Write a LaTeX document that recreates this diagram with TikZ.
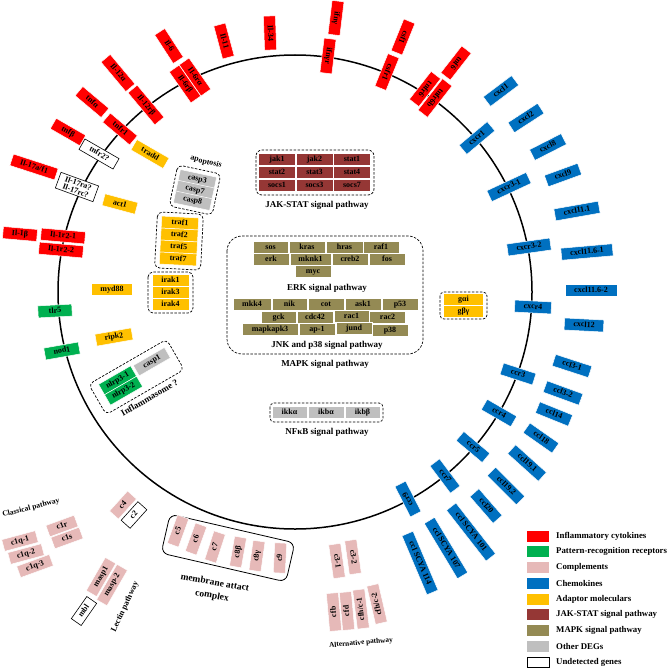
\documentclass[tikz,border=0pt]{standalone}
\usepackage{fontspec}
\setmainfont{Liberation Serif}
\definecolor{cInfl}{HTML}{FF0000}
\definecolor{cPrr}{HTML}{00B050}
\definecolor{cComp}{HTML}{E6B9B8}
\definecolor{cChemo}{HTML}{0070C0}
\definecolor{cAdapt}{HTML}{FFC000}
\definecolor{cJak}{HTML}{953735}
\definecolor{cMapk}{HTML}{948A54}
\definecolor{cOther}{HTML}{BFBFBF}
\newcommand{\genefont}{\fontsize{8}{9}\selectfont\bfseries}
\newcommand{\pathfont}{\fontsize{9}{10}\selectfont\bfseries}
\newcommand{\smallpath}{\fontsize{7.6}{9}\selectfont\bfseries}
\tikzset{
  gene/.style={draw=white, line width=.5pt, minimum width=34pt, minimum height=12pt,
    inner xsep=9pt, inner ysep=0pt, text height=5.6pt, text depth=1.6pt, font=\genefont},
  infl/.style={gene, fill=cInfl},
  prr/.style={gene, fill=cPrr},
  comp/.style={gene, fill=cComp, minimum width=30pt, inner xsep=8pt},
  chemo/.style={gene, fill=cChemo},
  adapt/.style={gene, fill=cAdapt},
  undet/.style={gene, draw=black, line width=.6pt, fill=white},
  cell/.style={gene, minimum width=37pt, inner xsep=1pt},
  jak/.style={cell, fill=cJak},
  mapk/.style={cell, fill=cMapk, minimum width=36pt},
  other/.style={cell, fill=cOther},
  grp/.style={draw, dash pattern=on 2.5pt off 1.5pt, line width=.7pt, rounded corners=5pt},
  lab/.style={font=\pathfont, inner sep=1pt},
  key/.style={minimum width=22pt, minimum height=11pt, inner sep=0pt},
}
\begin{document}
\begin{tikzpicture}[x=1pt,y=-1pt]
\useasboundingbox (0,0) rectangle (669,669);
\draw[line width=1.5pt] (295,292) circle[radius=237pt];

% inflammatory cytokines
\node[infl,rotate=-57] (il6) at (169,46) {Il-6};
\node[infl,rotate=-75] (il11) at (224,41) {Il-11};
\node[infl,rotate=-88] (il34) at (270,33) {Il-34};
\node[infl,rotate=-97] (ifng) at (336,18) {ifnγ};
\node[infl,rotate=-97] (ifngr) at (328,56) {ifnγr};
\node[infl,rotate=-112] (csf1) at (403,37) {csf1};
\node[infl,rotate=-112] (csfr1) at (387,72) {csfr1};
\node[infl,rotate=-128] (tnf6) at (456,63) {tnf6};
\node[infl,rotate=-128] (tnfr6) at (425,89) {tnfr6};
\node[infl,rotate=-128] (tnfr6b) at (435,98) {tnfr6b};
\node[infl,rotate=-55] (il6ra) at (195,77) {Il-6rα};
\node[infl,rotate=-55] (il6rb) at (185,84) {Il-6rβ};
\node[infl,rotate=-50] (il12a) at (118,73) {Il-12α};
\node[infl,rotate=-50] (il12rb) at (146,105) {Il-12rβ};
\node[infl,rotate=-40] (tnfa) at (92,102) {tnfα};
\node[infl,rotate=-40] (tnfr1) at (120,129) {tnfr1};
\node[infl,rotate=-30] (tnfb) at (68,132) {tnfβ};
\node[infl,rotate=-18,minimum width=46pt] (il17af) at (34,167) {Il-17a/f1};
\node[infl,rotate=-5] (il1b) at (20,234) {Il-1β};
\node[infl,rotate=-5] (il1r21) at (63,236) {Il-1r2-1};
\node[infl,rotate=-5] (il1r22) at (61,250) {Il-1r2-2};

% undetected
\node[undet,rotate=-30] (tnfr2) at (99,154) {tnfr2?};
\node[undet,rotate=-20,align=center,text height=,text depth=,inner ysep=1.5pt,
  minimum width=40pt,inner xsep=3pt] (il17r) at (77,187) {Il-17ra?\\[-1pt]Il-17rc?};

% adaptors and receptors
\node[adapt,rotate=-30] (tradd) at (150,154) {tradd};
\node[adapt,rotate=-15] (act1) at (120,204) {act1};
\node[adapt] (myd88) at (112,289) {myd88};
\node[adapt,rotate=10] (ripk2) at (114,337) {ripk2};
\node[prr,rotate=3] (tlr5) at (55,311) {tlr5};
\node[prr,rotate=10] (nod1) at (62,351) {nod1};

\begin{scope}[shift={(179,241)},rotate=-3,transform shape]
\draw[grp] (-23,-28) rectangle (23,28);
\node[cell,fill=cAdapt] (traf1) at (0,-18) {traf1};
\node[cell,fill=cAdapt] (traf2) at (0,-6) {traf2};
\node[cell,fill=cAdapt] (traf5) at (0,6) {traf5};
\node[cell,fill=cAdapt] (traf7) at (0,18) {traf7};
\end{scope}

\draw[grp] (148,272) rectangle (193,313);
\node[cell,fill=cAdapt] (irak1) at (170.5,280.5) {irak1};
\node[cell,fill=cAdapt] (irak3) at (170.5,292.5) {irak3};
\node[cell,fill=cAdapt] (irak4) at (170.5,304.5) {irak4};

\begin{scope}[shift={(195,190)},rotate=-12,transform shape]
\draw[grp] (-22,-21) rectangle (22,21);
\node[other] (casp3) at (0,-11) {casp3};
\node[other] (casp7) at (0,0) {casp7};
\node[other] (casp8) at (0,11) {casp8};
\end{scope}
\node[lab,font=\fontsize{8}{9}\selectfont\bfseries,rotate=-14] (apop) at (206,162) {apoptosis};

\begin{scope}[shift={(137,376)},rotate=30,transform shape]
\draw[grp] (-46,-17) rectangle (44,18);
\node[cell,fill=cPrr] (nlrp31) at (-19,-6) {nlrp3-1};
\node[cell,fill=cPrr] (nlrp32) at (-19,6) {nlrp3-2};
\node[other,minimum width=36pt] (casp1) at (20,-5) {casp1};
\node[lab] (inflam) at (0,25) {Inflammasome ?};
\end{scope}

\draw[grp,rounded corners=4pt] (440,292) rectangle (487,319);
\node[cell,fill=cAdapt,minimum width=40pt] (gai) at (463.5,299.5) {gαi};
\node[cell,fill=cAdapt,minimum width=40pt] (gbg) at (463.5,311.5) {gβγ};

% JAK-STAT
\draw[grp,rounded corners=6pt] (256,150) rectangle (374,195);
\node[jak] (jak1) at (277,159.5) {jak1};
\node[jak] (jak2) at (314.5,159.5) {jak2};
\node[jak] (stat1) at (352,159.5) {stat1};
\node[jak] (stat2) at (277,172.5) {stat2};
\node[jak] (stat3) at (314.5,172.5) {stat3};
\node[jak] (stat4) at (352,172.5) {stat4};
\node[jak] (socs1) at (277,185.5) {socs1};
\node[jak] (socs3) at (314.5,185.5) {socs3};
\node[jak] (socs7) at (352,185.5) {socs7};
\node[lab] (jaklab) at (317,205) {JAK-STAT signal pathway};

% MAPK
\draw[grp,rounded corners=15pt] (227,236) rectangle (423,354);
\node[mapk,minimum width=35pt] (sos) at (270.5,247) {sos};
\node[mapk] (kras) at (307,247) {kras};
\node[mapk,minimum width=37pt] (hras) at (344.5,247) {hras};
\node[mapk] (raf1) at (381,247) {raf1};
\node[mapk] (erk) at (271,259) {erk};
\node[mapk,minimum width=41pt] (mknk1) at (310.5,259) {mknk1};
\node[mapk] (creb2) at (350,259) {creb2};
\node[mapk] (fos) at (387,259) {fos};
\node[mapk] (myc) at (313,271.5) {myc};
\node[lab] (erklab) at (327,288) {ERK signal pathway};
\node[mapk,minimum width=38pt] (mkk4) at (252,304) {mkk4};
\node[mapk,minimum width=35pt] (nik) at (289.5,304) {nik};
\node[mapk] (cot) at (326,304) {cot};
\node[mapk] (ask1) at (363,304) {ask1};
\node[mapk] (p53) at (400,304) {p53};
\node[mapk,minimum width=35pt] (gck) at (278.5,317) {gck};
\node[mapk] (cdc42) at (315,317) {cdc42};
\node[mapk,minimum width=35pt] (rac1) at (351.5,316) {rac1};
\node[mapk] (rac2) at (387.5,317.5) {rac2};
\node[mapk,minimum width=56pt] (mapkapk3) at (270,329) {mapkapk3};
\node[mapk] (ap1) at (317,329) {ap-1};
\node[mapk] (jund) at (354,328) {jund};
\node[mapk] (p38) at (390,330) {p38};
\node[lab] (jnklab) at (327,345) {JNK and p38 signal pathway};
\node[lab] (mapklab) at (325,364) {MAPK signal pathway};

% NFkB
\draw[grp,rounded corners=4pt] (270,403) rectangle (383,422);
\node[other,minimum width=35pt] (ikka) at (289.5,412.5) {ikkα};
\node[other,minimum width=36pt] (ikba) at (326,412.5) {ikbα};
\node[other,minimum width=35pt] (ikbb) at (362.5,412.5) {ikbβ};
\node[lab] (nfkblab) at (327,432) {NFκB signal pathway};

% chemokines
\node[chemo,rotate=37] (cxcl1) at (501,91) {cxcl1};
\node[chemo,rotate=33] (cxcl2) at (526,118) {cxcl2};
\node[chemo,rotate=27] (cxcl8) at (548,147) {cxcl8};
\node[chemo,rotate=20] (cxcl9) at (563,175) {cxcl9};
\node[chemo,rotate=10] (cxcl111) at (577,211) {cxcl11.1};
\node[chemo,rotate=40] (cxcr1) at (477,138) {cxcr1};
\node[chemo,rotate=25] (cxcr31) at (509,187) {cxcr3-1};
\node[chemo,rotate=8] (cxcr32) at (529,247) {cxcr3-2};
\node[chemo,rotate=5] (cxcl1161) at (587,252) {cxcl11.6-1};
\node[chemo] (cxcl1162) at (591,290) {cxcl11.6-2};
\node[chemo,rotate=-3] (cxcr4) at (533,307) {cxcr4};
\node[chemo,rotate=-3] (cxcl12) at (584,325) {cxcl12};
\node[chemo,rotate=-18] (ccr3) at (518,374) {ccr3};
\node[chemo,rotate=-18] (ccl31) at (572,366) {ccl3-1};
\node[chemo,rotate=-20] (ccl32) at (563,393) {ccl3-2};
\node[chemo,rotate=-22] (ccl14) at (554,414) {ccl14};
\node[chemo,rotate=-30] (ccr4) at (499,413) {ccr4};
\node[chemo,rotate=-35] (ccl18) at (541,438) {ccl18};
\node[chemo,rotate=-40] (ccr5) at (473,447) {ccr5};
\node[chemo,rotate=-42] (ccl191) at (527,463) {ccl19.1};
\node[chemo,rotate=-53] (ccr7) at (445,476) {ccr7};
\node[chemo,rotate=-45] (ccl192) at (506,486) {ccl19.2};
\node[chemo,rotate=-49] (ccl20) at (486,506) {ccl20};
\node[chemo,rotate=117] (ccr9) at (408,499) {ccr9};
\node[chemo,rotate=-52] (scya101) at (471,532) {ccl SCYA 101};
\node[chemo,rotate=-59] (scya107) at (446,548) {ccl SCYA 107};
\node[chemo,rotate=-67] (scya114) at (420,563) {ccl SCYA 114};

% complements
\node[lab,font=\smallpath,rotate=14] (classical) at (31,508) {Classical pathway};
\node[comp,rotate=15] (c1q1) at (20,541) {c1q-1};
\node[comp,rotate=15] (c1q2) at (26,554) {c1q-2};
\node[comp,rotate=20] (c1q3) at (35,566) {c1q-3};
\node[comp,rotate=20] (c1r) at (62,526) {c1r};
\node[comp,rotate=20] (c1s) at (67,538) {c1s};
\node[comp,rotate=48,minimum width=27pt] (c4) at (123,505) {c4};
\node[undet,rotate=48,minimum width=25pt,inner xsep=8pt] (c2) at (134,515) {c2};
\node[comp,rotate=60] (masp1) at (101,577) {masp1};
\node[comp,rotate=60] (masp2) at (112,585) {masp-2};
\node[undet,rotate=55,minimum width=27pt,inner xsep=6pt] (mbl) at (84,611) {mbl};
\node[lab,font=\fontsize{8.2}{9}\selectfont\bfseries,rotate=65] (lectin) at (125,607) {Lectin pathway};

\begin{scope}[shift={(228,548)},rotate=-13]
\draw[line width=.8pt,rounded corners=7pt] (-64,-20) rectangle (64,20);
\end{scope}
\node[comp,rotate=70] (c5) at (178,531) {c5};
\node[comp,rotate=70] (c6) at (196,539) {c6};
\node[comp,rotate=72] (c7) at (215,547) {c7};
\node[comp,rotate=80] (c8b) at (238,552) {c8β};
\node[comp,rotate=82] (c8g) at (257,556) {c8γ};
\node[comp,rotate=87] (c9) at (280,558) {c9};
\node[lab,font=\fontsize{9.5}{10}\selectfont\bfseries,rotate=-10] (mac1) at (215,582) {membrane attact};
\node[lab,font=\fontsize{9.5}{10}\selectfont\bfseries,rotate=-10] (mac2) at (212,596) {complex};

\node[comp,rotate=-82,minimum width=34pt] (c31) at (337,561) {c3-1};
\node[comp,rotate=-82,minimum width=34pt] (c32) at (353,557) {c3-2};
\node[comp,rotate=95,minimum width=38pt] (cfb) at (334,612) {cfb};
\node[comp,rotate=95,minimum width=38pt] (cfd) at (347,611) {cfd};
\node[comp,rotate=97,minimum width=38pt] (cfh1) at (361,609) {cfh/c-1};
\node[comp,rotate=103,minimum width=38pt] (cfh2) at (377,604) {cfh/c-2};
\node[lab,font=\fontsize{7.3}{9}\selectfont\bfseries,rotate=5] (alt) at (361,643) {Alternative pathway};

% legend
\foreach \c/\t [count=\i from 0] in {cInfl/Inflammatory cytokines, cPrr/Pattern-recognition receptors,
    cComp/Complements, cChemo/Chemokines, cAdapt/Adaptor moleculars, cJak/JAK-STAT signal pathway,
    cMapk/MAPK signal pathway, cOther/Other DEGs} {
  \node[key,fill=\c] (key\i) at (538,536+15.75*\i) {};
  \node[lab,font=\fontsize{8.8}{10}\selectfont\bfseries,anchor=west] (leg\i) at (555,536+15.75*\i) {\t};
}
\node[key,draw=black,line width=.8pt,minimum height=10pt] (key8) at (538,662) {};
\node[lab,font=\fontsize{8.8}{10}\selectfont\bfseries,anchor=west] (leg8) at (555,662) {Undetected genes};
\end{tikzpicture}
\end{document}
